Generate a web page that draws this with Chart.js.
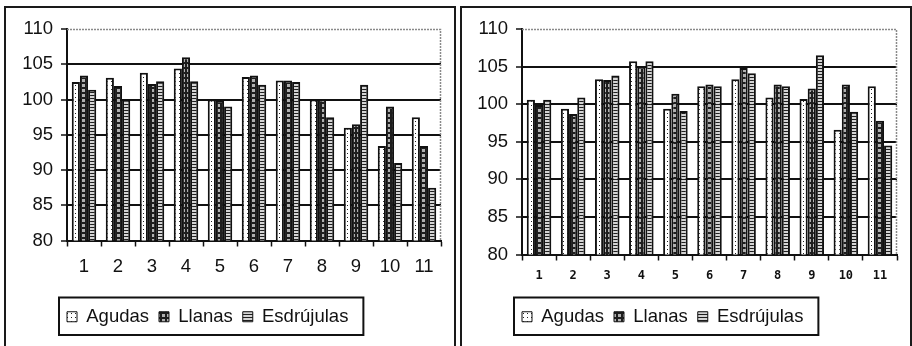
<!DOCTYPE html>
<html>
<head>
<meta charset="utf-8">
<script src="https://cdn.jsdelivr.net/npm/chart.js@4/dist/chart.umd.min.js"></script>
<style>
  html, body { margin: 0; padding: 0; background: #fff; overflow: hidden; }
  body { width: 912px; height: 346px; position: relative; }
  .panel { position: absolute; top: 6px; width: 452px; height: 400px;
           border: 2px solid #1a1a1a; box-sizing: border-box; background: #fff; }
  #panelA { left: 4px; }
  #panelB { left: 460px; }
  canvas { position: absolute; left: 0; top: 0; }
</style>
</head>
<body>
<div class="panel" id="panelA"><canvas id="chartA" width="448" height="338"></canvas></div>
<div class="panel" id="panelB"><canvas id="chartB" width="448" height="338"></canvas></div>
<script>
// Categories and tick values
const categories = ['1', '2', '3', '4', '5', '6', '7', '8', '9', '10', '11'];
const yTicks = [80, 85, 90, 95, 100, 105, 110];
const seriesNames = ['Agudas', 'Llanas', 'Esdrújulas'];

// Left chart
const agudasA = [102.5, 103.1, 103.8, 104.4, 100.0, 103.2, 102.7, 100.0, 96.0, 93.4, 97.5];
const llanasA = [103.4, 101.9, 102.2, 106.0, 99.9, 103.4, 102.7, 100.0, 96.5, 99.0, 93.4];
const esdrujulasA = [101.4, 100.0, 102.6, 102.6, 99.0, 102.1, 102.5, 97.5, 102.1, 91.0, 87.5];

// Right chart
const agudasB = [100.6, 99.4, 103.3, 105.7, 99.4, 102.4, 103.3, 100.9, 100.7, 96.6, 102.4];
const llanasB = [99.9, 98.7, 103.2, 105.0, 101.4, 102.6, 104.8, 102.6, 102.1, 102.6, 97.8];
const esdrujulasB = [100.6, 100.9, 103.8, 105.7, 99.1, 102.4, 104.1, 102.4, 106.5, 99.0, 94.5];

// Fill patterns for the three series
function makePattern(w, h, paint) {
  const c = document.createElement('canvas');
  c.width = w; c.height = h;
  const g = c.getContext('2d');
  paint(g);
  return g.createPattern(c, 'repeat');
}
const dotted = makePattern(4, 4, g => {
  g.fillStyle = '#fff'; g.fillRect(0, 0, 4, 4);
  g.fillStyle = '#222'; g.fillRect(1, 1, 1, 1);
});
const squares = makePattern(5, 5, g => {
  g.fillStyle = '#1e1e1e'; g.fillRect(0, 0, 5, 5);
  g.fillStyle = '#b0b0b0'; g.fillRect(1, 1, 3, 3);
});
const stripes = makePattern(4, 3, g => {
  g.fillStyle = '#1e1e1e'; g.fillRect(0, 0, 4, 3);
  g.fillStyle = '#d4d4d4'; g.fillRect(0, 1, 4, 2);
});
const fills = [dotted, squares, stripes];

// Dotted top/right edges of the plot area, legend aligned with the y axis, framed legend
const framePlugin = {
  id: 'frame',
  afterLayout(chart) {
    const lg = chart.legend;
    if (!lg) return;
    const pad = lg.options.labels.padding;
    const shift = chart.chartArea.left - pad - lg.left;
    lg.left += shift;
    lg.right += shift;
  },
  beforeDatasetsDraw(chart) {
    const { ctx, chartArea: a } = chart;
    ctx.save();
    ctx.strokeStyle = '#8a8a8a';
    ctx.lineWidth = 1.5;
    ctx.setLineDash([2, 1]);
    ctx.beginPath();
    ctx.moveTo(a.left, a.top + 0.5);
    ctx.lineTo(a.right - 0.5, a.top + 0.5);
    ctx.lineTo(a.right - 0.5, a.bottom);
    ctx.stroke();
    ctx.restore();
  },
  afterDraw(chart) {
    const boxes = chart.legend && chart.legend.legendHitBoxes;
    if (!boxes || !boxes.length) return;
    let l = Infinity, r = -Infinity, t = Infinity, b = -Infinity;
    boxes.forEach(h => {
      l = Math.min(l, h.left); r = Math.max(r, h.left + h.width);
      t = Math.min(t, h.top); b = Math.max(b, h.top + h.height);
    });
    const ctx = chart.ctx;
    ctx.save();
    ctx.strokeStyle = '#111';
    ctx.lineWidth = 2;
    ctx.strokeRect(l - 8, t - 10, (r - l) + 23, (b - t) + 19);
    ctx.restore();
  }
};

function buildChart(id, series, opts) {
  const font = { family: "'Liberation Sans', Arial, sans-serif", size: 18.5 };
  return new Chart(document.getElementById(id), {
    type: 'bar',
    data: {
      labels: categories,
      datasets: series.map((values, i) => ({
        label: seriesNames[i],
        data: values,
        backgroundColor: fills[i],
        borderColor: '#111',
        borderWidth: 2,
        borderSkipped: 'start',
        categoryPercentage: 0.72,
        barPercentage: 1.0
      }))
    },
    options: {
      responsive: false,
      animation: false,
      events: [],
      layout: { padding: { left: 0, right: 13, top: 21, bottom: 10 } },
      plugins: {
        tooltip: { enabled: false },
        legend: {
          position: 'bottom',
          align: 'start',
          labels: {
            color: '#111',
            font: font,
            boxWidth: 10,
            boxHeight: 10,
            padding: 10,
            generateLabels(chart) {
              return chart.data.datasets.map((ds, i) => ({
                text: ds.label,
                fillStyle: ds.backgroundColor,
                strokeStyle: '#111',
                lineWidth: 1,
                datasetIndex: i,
                fontColor: '#111'
              }));
            }
          }
        }
      },
      scales: {
        x: {
          grid: { display: true, drawOnChartArea: false, drawTicks: true,
                  tickLength: 6, tickColor: '#111', tickWidth: 1.5, offset: true },
          border: { color: '#111', width: 2 },
          ticks: { color: '#111', font: opts.xFont, padding: opts.xPad, maxRotation: 0, autoSkip: false },
          afterFit(scale) { scale.height = opts.xHeight; }
        },
        y: {
          min: yTicks[0],
          max: yTicks[yTicks.length - 1],
          afterBuildTicks(scale) { scale.ticks = yTicks.map(v => ({ value: v })); },
          grid: {
            color: c => (c.tick && c.tick.value === 110) ? 'rgba(0,0,0,0)' : '#111',
            lineWidth: 2,
            tickLength: 6,
            tickColor: '#111',
            tickWidth: 1.5
          },
          border: { color: '#111', width: 2 },
          ticks: { color: '#111', font: font, padding: 8 },
          afterFit(scale) { scale.width = opts.yWidth; }
        }
      }
    },
    plugins: [framePlugin]
  });
}

buildChart('chartA', [agudasA, llanasA, esdrujulasA], {
  yWidth: 61, xHeight: 57, xPad: 9,
  xFont: { family: "'Liberation Sans', Arial, sans-serif", size: 18.5 }
});
buildChart('chartB', [agudasB, llanasB, esdrujulasB], {
  yWidth: 60, xHeight: 43, xPad: 8,
  xFont: { family: "'DejaVu Sans Mono', monospace", size: 12, weight: 'bold' }
});
</script>
</body>
</html>
